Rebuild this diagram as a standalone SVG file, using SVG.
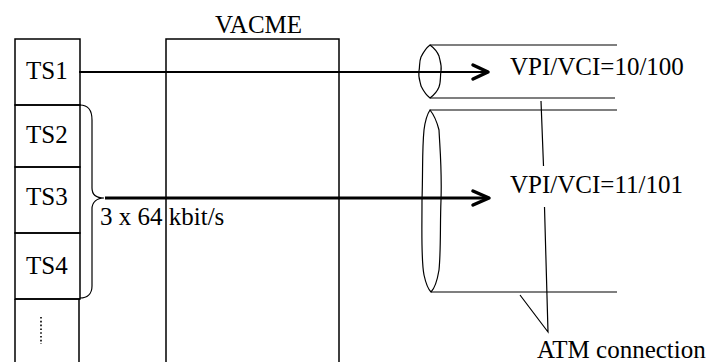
<svg xmlns="http://www.w3.org/2000/svg" width="712" height="362" viewBox="0 0 712 362">
  <style>
    .ln { fill: none; stroke: #000; stroke-width: 1.5; }
    .thin { fill: none; stroke: #000; stroke-width: 1.2; }
    .lbl { font-family: "Liberation Serif", "Times New Roman", serif; font-size: 25px; fill: #000; }
    .head { fill: none; stroke: #000; stroke-width: 3.5; stroke-linecap: round; stroke-linejoin: round; }
  </style>
  <rect width="712" height="362" fill="#fff"/>

  <!-- time slot column -->
  <g id="ts1">
    <path class="ln" d="M15,39 H80 V105 H15 Z"/>
    <text class="lbl" x="26" y="79">TS1</text>
  </g>
  <g id="ts2">
    <path class="ln" d="M15,105 H80 V167 H15 Z"/>
    <text class="lbl" x="26" y="143">TS2</text>
  </g>
  <g id="ts3">
    <path class="ln" d="M15,167 H80 V233 H15 Z"/>
    <text class="lbl" x="26" y="205">TS3</text>
  </g>
  <g id="ts4">
    <path class="ln" d="M15,233 H80 V299 H15 Z"/>
    <text class="lbl" x="26" y="274">TS4</text>
  </g>
  <g id="ts-more">
    <path class="ln" d="M15,299 H80 M15,299 V362 M79,299 V362"/>
    <line x1="41" y1="317" x2="41" y2="344" stroke="#000" stroke-width="1.6" stroke-dasharray="1.6 2.2"/>
  </g>

  <!-- brace grouping TS2..TS4 -->
  <g id="brace">
    <path class="thin" d="M80,105 C88,105 92,110 92,120 V188 C92,195 97,198 104,198 C97,198 92,202 92,209 V286 C92,294 87,298 80,298"/>
    <text class="lbl" x="100" y="225">3 x 64 kbit/s</text>
  </g>

  <!-- VACME box -->
  <g id="vacme">
    <path class="ln" d="M166,362 V39 H339 V362"/>
    <text class="lbl" x="215" y="33">VACME</text>
  </g>

  <!-- ATM connections (tubes) -->
  <g id="vc-10-100">
    <path class="thin" d="M430,45 H617 M430,98 H615"/>
    <path class="thin" d="M430,45 C426,48 424,51 421,57 C419,62 420,66 419,71 C418,77 420,81 421,86 C424,92 426,95 430,98 C434,95 437,92 439,87 C441,82 440,77 441,71 C442,65 440,61 439,56 C437,51 434,48 430,45 Z"/>
    <text class="lbl" x="510" y="75">VPI/VCI=10/100</text>
  </g>
  <g id="vc-11-101">
    <path class="thin" d="M430,110 H617 M431,292 H617"/>
    <path class="thin" d="M430,110 C426,116 425,122 424,130 C422,150 423,170 422,200 C422,235 421,260 424,275 C426,284 428,289 431,292 C435,288 437,282 439,270 C441,250 440,225 441,200 C442,170 440,150 439,130 C437,122 434,115 430,110 Z"/>
    <text class="lbl" x="510" y="193">VPI/VCI=11/101</text>
  </g>
  <g id="atm-label">
    <path class="thin" d="M541,101 L543.5,166 M544.5,207 L548,332 L520,295"/>
    <text class="lbl" x="537" y="358">ATM connection</text>
  </g>

  <!-- connectors -->
  <g id="connectors">
    <line x1="79" y1="72" x2="487" y2="72" stroke="#000" stroke-width="2"/>
    <path class="head" d="M473,65 L488,72 L473,79"/>
    <line x1="105" y1="198" x2="488" y2="198" stroke="#000" stroke-width="3"/>
    <path class="head" d="M473,191 L489,198 L473,205"/>
  </g>
</svg>
